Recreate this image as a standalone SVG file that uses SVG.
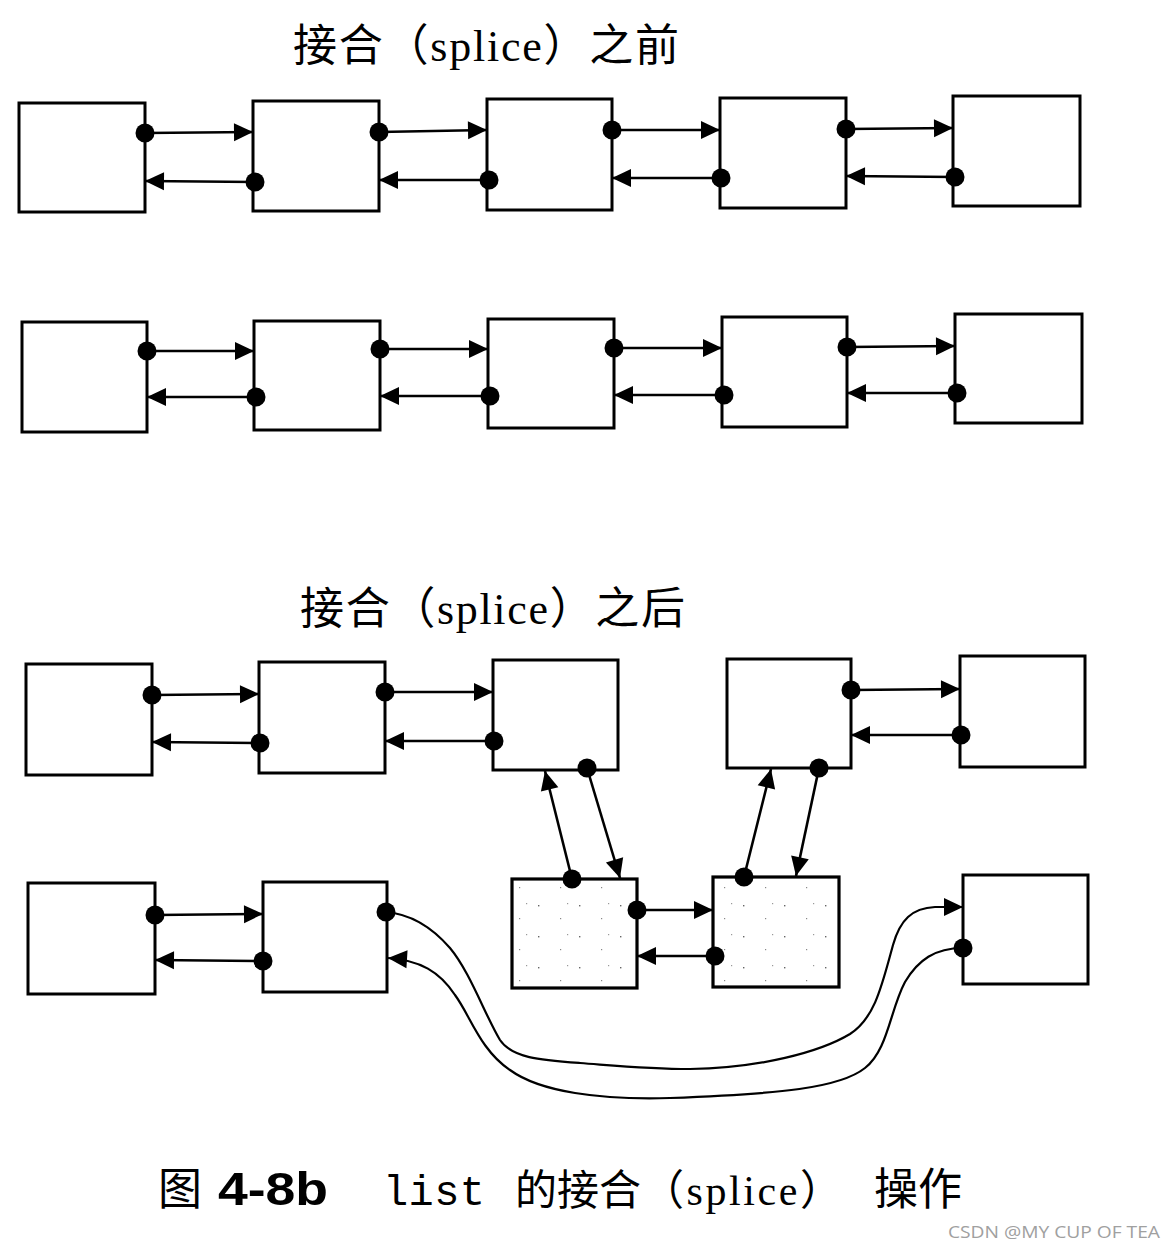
<svg xmlns="http://www.w3.org/2000/svg" width="1176" height="1248" viewBox="0 0 1176 1248">
<style>
.box{fill:#fff;stroke:#000;stroke-width:3}
.shaded{fill:url(#stipple);stroke:#000;stroke-width:3.2}
.c{fill:none;stroke:#000;stroke-width:2.6;marker-start:url(#dot);marker-end:url(#arr)}
.cv{fill:none;stroke:#000;stroke-width:2.2;marker-start:url(#dot);marker-end:url(#arr)}
.t{font-family:"Liberation Serif","Noto Sans CJK SC",serif;font-size:44px;fill:#000}
.cjk{font-family:"Noto Sans CJK SC",serif;fill:#000}
</style>
<defs>
<marker id="arr" markerUnits="userSpaceOnUse" markerWidth="22" markerHeight="20" refX="19" refY="9" orient="auto" overflow="visible">
<path d="M0,0 L19,9 L0,18 z" fill="#000"/>
</marker>
<marker id="dot" markerUnits="userSpaceOnUse" markerWidth="22" markerHeight="22" refX="11" refY="11" overflow="visible">
<circle cx="11" cy="11" r="9.5" fill="#000"/>
</marker>
<pattern id="stipple" patternUnits="userSpaceOnUse" width="41" height="31">
<rect width="41" height="31" fill="#fff"/>
<rect x="5" y="6" width="1.4" height="1.4" fill="#666"/>
<rect x="27" y="19" width="1.2" height="1.2" fill="#888"/>
<rect x="34" y="4" width="1.2" height="1.2" fill="#999"/>
</pattern>
</defs>

<rect width="1176" height="1248" fill="#fff"/>

<text class="t" x="293" y="61" textLength="386" lengthAdjust="spacing">接合（splice）之前</text>
<text class="t" x="300" y="624" textLength="385" lengthAdjust="spacing">接合（splice）之后</text>

<g id="row1">
<g id="n1-1"><rect class="box" x="19" y="103" width="126" height="109"/></g>
<g id="n1-2"><rect class="box" x="253" y="101" width="126" height="110"/></g>
<g id="n1-3"><rect class="box" x="487" y="99" width="125" height="111"/></g>
<g id="n1-4"><rect class="box" x="720" y="98" width="126" height="110"/></g>
<g id="n1-5"><rect class="box" x="953" y="96" width="127" height="110"/></g>
</g>
<g id="row2">
<g id="n2-1"><rect class="box" x="22" y="322" width="125" height="110"/></g>
<g id="n2-2"><rect class="box" x="254" y="321" width="126" height="109"/></g>
<g id="n2-3"><rect class="box" x="488" y="319" width="126" height="109"/></g>
<g id="n2-4"><rect class="box" x="722" y="317" width="125" height="110"/></g>
<g id="n2-5"><rect class="box" x="955" y="314" width="127" height="109"/></g>
</g>
<g id="row3">
<g id="n3-1"><rect class="box" x="26" y="664" width="126" height="111"/></g>
<g id="n3-2"><rect class="box" x="259" y="662" width="126" height="111"/></g>
<g id="n3-3"><rect class="box" x="493" y="660" width="125" height="110"/></g>
<g id="n3-4"><rect class="box" x="727" y="659" width="124" height="109"/></g>
<g id="n3-5"><rect class="box" x="960" y="656" width="125" height="111"/></g>
</g>
<g id="row4">
<g id="n4-1"><rect class="box" x="28" y="883" width="127" height="111"/></g>
<g id="n4-2"><rect class="box" x="263" y="882" width="124" height="110"/></g>
<g id="s1"><rect class="shaded" x="512" y="879" width="125" height="109"/></g>
<g id="s2"><rect class="shaded" x="713" y="877" width="126" height="110"/></g>
<g id="n4-5"><rect class="box" x="963" y="875" width="125" height="109"/></g>
</g>

<g id="connectors">
<path class="c" d="M145,133 L253,132"/>
<path class="c" d="M255,182 L145,181"/>
<path class="c" d="M379,132 L487,130"/>
<path class="c" d="M489,180 L379,180"/>
<path class="c" d="M612,130 L720,130"/>
<path class="c" d="M721,178 L612,178"/>
<path class="c" d="M846,129 L953,128"/>
<path class="c" d="M955,177 L846,176"/>

<path class="c" d="M147,351 L254,351"/>
<path class="c" d="M256,397 L147,397"/>
<path class="c" d="M380,349 L488,349"/>
<path class="c" d="M490,396 L380,396"/>
<path class="c" d="M614,348 L722,348"/>
<path class="c" d="M724,395 L614,395"/>
<path class="c" d="M847,347 L955,346"/>
<path class="c" d="M957,393 L847,393"/>

<path class="c" d="M152,695 L259,694"/>
<path class="c" d="M260,743 L152,742"/>
<path class="c" d="M385,692 L493,692"/>
<path class="c" d="M494,741 L385,741"/>
<path class="c" d="M851,690 L960,689"/>
<path class="c" d="M961,735 L851,735"/>

<path class="c" d="M587,768 L620,878"/>
<path class="c" d="M572,879 L545,771"/>
<path class="c" d="M744,877 L771,769"/>
<path class="c" d="M819,768 L796,876"/>

<path class="c" d="M155,915 L263,914"/>
<path class="c" d="M263,961 L155,960"/>
<path class="c" d="M637,910 L713,910"/>
<path class="c" d="M715,956 L637,956"/>

<path class="cv" d="M386,912 C410,914 430,925 450,948 C470,972 485,1015 500,1040 C512,1058 540,1060 580,1063 C620,1066 650,1069 690,1069 C760,1068 820,1052 850,1034 C875,1018 882,985 893,945 C900,920 912,908 935,907 L963,907"/>
<path class="cv" d="M963,948 C935,948 918,960 905,982 C890,1010 888,1050 865,1068 C840,1088 780,1094 670,1098 C600,1100 540,1092 510,1070 C480,1050 470,1015 455,995 C440,972 420,960 388,958"/>
</g>

<text y="1205">
<tspan class="cjk" x="158" font-size="44">图</tspan>
<tspan x="218" font-family="Liberation Sans, Arial, sans-serif" font-weight="900" font-size="46" textLength="110" lengthAdjust="spacingAndGlyphs">4-8b</tspan>
<tspan x="383" font-family="Liberation Mono, monospace" font-size="42" textLength="102">list</tspan>
<tspan class="cjk" x="515" font-size="42">的接合</tspan>
<tspan x="642" font-family="Liberation Serif, Noto Sans CJK SC, serif" font-size="42" textLength="200" lengthAdjust="spacing">（splice）</tspan>
<tspan class="cjk" x="874" font-size="44">操作</tspan>
</text>

<text x="948" y="1238" font-family="Open Sans, sans-serif" font-size="16" fill="#a0a0a0" textLength="212" lengthAdjust="spacingAndGlyphs">CSDN @MY CUP OF TEA</text>
</svg>
